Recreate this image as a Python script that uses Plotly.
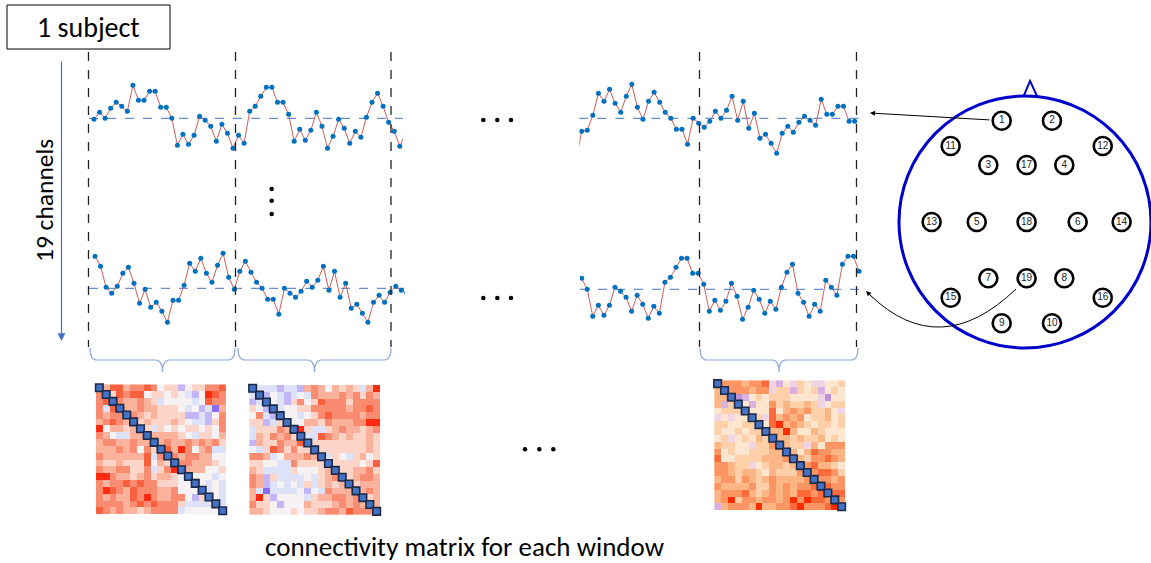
import plotly.graph_objects as go

W, H = 1151, 563

# ---------------- data ----------------
# EEG-like signal samples (amplitude in px above the dashed mean line)
top_left = [-1, 6, 0, 10, 16, 12, 7, 33, 18, 18, 27, 27, 11, 11, 0, -27, -16, -26, -17, 2,
            -2, -8, -23, -6, -15, -30, -17, -25, 7, 12, 22, 31, 31, 16, 16, 4, -23, -11, -22, -12,
            6, -8, -30, -18, -1, -10, -25, -13, -19, 1, 16, 25, 12, -4, -13, -28, -15]
bottom_left = [32, 22, 1, -5, 2, 15, 21, 5, -15, -1, -19, -14, -23, -34, -12, -12, 3, 25, 17, 30,
               15, 6, 23, 35, 11, -1, 17, 27, 16, 6, 0, -11, -11, -26, 0, -5, -9, -3, 7, 1,
               8, 22, -2, 17, -9, 5, -20, -16, -25, -34, -14, -7, -14, -4, 2, -2, -5]
top_right = [-42, -13, -12, 3, 25, 17, 29, 15, 6, 22, 34, 11, -1, 17, 26, 16, 6, 0, -11, -11,
             -26, 0, -5, -9, -3, 7, 0, 8, 22, -2, 17, -10, 5, -20, -16, -25, -35, -15, -8, -14,
             -4, 2, -2, -7, 19, 4, 4, 12, 12, -3, -3]
bottom_right = [11, 0, -27, -16, -26, -16, 2, -2, -8, -22, -6, -15, -29, -17, -24, 7, 12, 22, 31, 31,
                16, 16, 5, -22, -11, -21, -12, 6, -7, -30, -18, -1, -10, -24, -12, -20, 2, 17, 25, -4,
                -13, -27, -15, -22, 9, 2, -6, 25, 33, 33, 18]

# connectivity matrices, one digit per cell (0 = strongest negative ... 8 = strongest positive)
matrix_window_1 = [
    "8577566763441344667", "6847677344343213876", "6786556542333323766", "6278556554443231205",
    "6566865454444112136", "5676584544454322146", "8355458424343443436", "6532255855554324435",
    "5665565585655656564", "5556563648758635622", "6555555726865665533", "5445444735486655543",
    "6556644624688555334", "8865545645543833323", "6566767664443383232", "6876576665563338232",
    "6565576865566314832", "6666567676664222282", "7656554566662333338"]
matrix_window_2 = [
    "8222122156535454258", "2813212326555656465", "1283214634766646666", "4318233446666656676",
    "3621833234676666566", "4412483355465556688", "2444658842245655456", "2546564822765454454",
    "1544655784444444454", "3247646448444444454", "6652355565824324534", "4433226444484444347",
    "5422224333458445564", "6514222232456845665", "6512323242454584555", "5202222313265558565",
    "5841333324556656845", "6443133354445656585", "5543334344566576668"]
matrix_window_last = [
    "8666566721324322334", "5866656624414341343", "5580134344433332033", "5148313364544542344",
    "3444833373565644532", "2323384275656344534", "4433448378565434434", "4334344855853354333",
    "3423435485545445343", "5443324468544253666", "6343344455853576655", "7334444555685466765",
    "6654423455458675543", "6654554354446867764", "5664654565555686656", "6555564465656678766",
    "5666754565657767877", "5684665665686877686", "1566658556678666788"]

# 10-20 electrode layout (head-radius units)
electrode_labels = ["1", "2", "11", "12", "3", "17", "4", "13", "5", "18", "6", "14",
                    "7", "19", "8", "15", "16", "9", "10"]
electrode_x = [-0.185, 0.214, -0.590, 0.617, -0.291, 0.013, 0.312, -0.741, -0.383, 0.013, 0.418, 0.767,
               -0.291, 0.013, 0.312, -0.590, 0.617, -0.185, 0.214]
electrode_y = [0.804, 0.804, 0.603, 0.603, 0.452, 0.452, 0.452, 0.0, 0.0, 0.0, 0.0, 0.0,
               -0.447, -0.447, -0.447, -0.601, -0.601, -0.804, -0.804]

FONT = "Carlito, Lato, sans-serif"

fig = go.Figure()


def dx(a, b):
    return [a / W, b / W]


def dy(top, bottom):
    return [1 - bottom / H, 1 - top / H]


layout_axes = {}
# overlay canvas (pixel space)
layout_axes["xaxis"] = dict(domain=[0, 1], range=[0, W], visible=False, fixedrange=True)
layout_axes["yaxis"] = dict(domain=[0, 1], range=[H, 0], visible=False, fixedrange=True)
fig.add_trace(go.Scatter(x=[0, W], y=[0, H], mode="markers", marker=dict(opacity=0),
                         hoverinfo="skip", showlegend=False))

# ---------------- signal strips ----------------
strips = [
    # values, px left, px right, baseline px, index of first visible sample, px of that sample, spacing
    (top_left, 89, 403, 118.3, 0, 94.0, 5.56),
    (bottom_left, 89, 405, 288.3, 0, 95.0, 5.57),
    (top_right, 579.3, 860, 118.3, 1, 581.7, 5.57),
    (bottom_right, 580, 866.7, 289.3, 0, 581.7, 5.547),
]
shapes = []
ax_i = 2
for vals, pl, pr, base, i0, p0, sp in strips:
    xa, ya = f"x{ax_i}", f"y{ax_i}"
    half = 50
    layout_axes[f"xaxis{ax_i}"] = dict(domain=dx(pl, pr), range=[i0 + (pl - p0) / sp, i0 + (pr - p0) / sp],
                                       visible=False, anchor=ya, fixedrange=True)
    layout_axes[f"yaxis{ax_i}"] = dict(domain=dy(base - half, base + half), range=[-half, half],
                                       visible=False, anchor=xa, fixedrange=True)
    shapes.append(dict(type="line", xref=f"{xa} domain", x0=0, x1=1, yref=ya, y0=0, y1=0,
                       line=dict(color="#4472C4", width=1, dash="dash"), layer="below"))
    fig.add_trace(go.Scatter(x=list(range(len(vals))), y=vals, mode="lines+markers", xaxis=xa, yaxis=ya,
                             line=dict(color="#C85F5B", width=1),
                             marker=dict(color="#0070C0", size=5),
                             hoverinfo="skip", showlegend=False))
    ax_i += 1

# ---------------- connectivity matrices ----------------
cs_main = [[0.0, "#8a6cf0"], [0.125, "#c2b6f6"], [0.25, "#dde2f8"], [0.375, "#f6f1f2"],
           [0.5, "#fcd4c8"], [0.625, "#fbb29c"], [0.75, "#f98c70"], [0.875, "#f8603e"], [1.0, "#ff2a10"]]
cs_last = [[0.0, "#c090d8"], [0.125, "#dab0e0"], [0.25, "#f0d4e4"], [0.375, "#fde6d0"],
           [0.5, "#fdd0aa"], [0.625, "#fcb686"], [0.75, "#fb9664"], [0.875, "#fa6a3a"], [1.0, "#ff2c00"]]
mats = [
    (matrix_window_1, 95.9, 226.1, 384.3, 514.1, cs_main),
    (matrix_window_2, 249.2, 380.1, 384.9, 514.8, cs_main),
    (matrix_window_last, 714.2, 845.1, 380.2, 510.1, cs_last),
]
for rows, l, r, t, b, cs in mats:
    xa, ya = f"x{ax_i}", f"y{ax_i}"
    z = [[int(c) for c in row] for row in rows]
    n = len(z)
    layout_axes[f"xaxis{ax_i}"] = dict(domain=dx(l, r), range=[-0.5, n - 0.5], visible=False,
                                       anchor=ya, fixedrange=True)
    layout_axes[f"yaxis{ax_i}"] = dict(domain=dy(t, b), range=[n - 0.5, -0.5], visible=False,
                                       anchor=xa, fixedrange=True)
    fig.add_trace(go.Heatmap(z=z, xaxis=xa, yaxis=ya, colorscale=cs, zmin=0, zmax=8,
                             showscale=False, hoverinfo="skip"))
    fig.add_trace(go.Scatter(x=list(range(n)), y=list(range(n)), mode="markers", xaxis=xa, yaxis=ya,
                             cliponaxis=False,
                             marker=dict(symbol="square", size=7.5, color="#4472C4",
                                         line=dict(color="#1c2a48", width=1.6)),
                             hoverinfo="skip", showlegend=False))
    ax_i += 1

# ---------------- head map ----------------
hx, hy = f"x{ax_i}", f"y{ax_i}"
cx, cy, R = 1025, 222, 126
hl, hr, ht, hb = 880, 1151, 70, 360
layout_axes[f"xaxis{ax_i}"] = dict(domain=dx(hl, hr), range=[(hl - cx) / R, (hr - cx) / R], visible=False,
                                   anchor=hy, fixedrange=True)
layout_axes[f"yaxis{ax_i}"] = dict(domain=dy(ht, hb), range=[(cy - hb) / R, (cy - ht) / R], visible=False,
                                   anchor=hx, fixedrange=True)
shapes.append(dict(type="circle", xref=hx, yref=hy, x0=-1, x1=1, y0=-1, y1=1,
                   line=dict(color="#0000CC", width=3)))
shapes.append(dict(type="path", xref=hx, yref=hy, path="M -0.01,1.0 L 0.04,1.12 L 0.095,1.0",
                   line=dict(color="#0000CC", width=2)))
fig.add_trace(go.Scatter(x=electrode_x, y=electrode_y, mode="markers+text", xaxis=hx, yaxis=hy,
                         text=electrode_labels, textposition="middle center",
                         textfont=dict(family="Liberation Sans, Arial, sans-serif", size=10, color="#222222"),
                         marker=dict(symbol="circle", size=18, color="white",
                                     line=dict(color="black", width=2.6)),
                         hoverinfo="skip", showlegend=False))

# ---------------- diagram furniture (pixel canvas) ----------------
# window separators
for xv in [88.5, 235.5, 391, 699.5, 856.5]:
    shapes.append(dict(type="line", xref="x", yref="y", x0=xv, x1=xv, y0=52, y1=347,
                       line=dict(color="#222222", width=1.3, dash="dash")))
# "1 subject" box
shapes.append(dict(type="rect", xref="x", yref="y", x0=7, x1=170, y0=5, y1=49,
                   line=dict(color="black", width=1), fillcolor="white"))


def brace(x0, x1, top=348, mid=360, tip=372, r=7):
    c = (x0 + x1) / 2
    return (f"M {x0},{top} Q {x0},{mid} {x0 + r},{mid} L {c - r},{mid} Q {c},{mid} {c},{tip} "
            f"Q {c},{mid} {c + r},{mid} L {x1 - r},{mid} Q {x1},{mid} {x1},{top}")


for a, b in [(90, 235), (238, 391), (700, 858)]:
    shapes.append(dict(type="path", xref="x", yref="y", path=brace(a, b),
                       line=dict(color="#8FAADC", width=1.2)))
# curved connector from electrode 19
shapes.append(dict(type="path", xref="x", yref="y", path="M 1016,289 Q 940,362 870,295",
                   line=dict(color="black", width=1)))

# ellipsis dots
dots_x = [483.3, 497.3, 511, 483.3, 497.3, 511, 525, 539.3, 553.3, 271.7, 271.7, 271.7]
dots_y = [120, 120, 120, 298, 298, 298, 449.3, 449.3, 449.3, 189, 200.7, 214]
fig.add_trace(go.Scatter(x=dots_x, y=dots_y, mode="markers", marker=dict(color="black", size=4.5),
                         hoverinfo="skip", showlegend=False))

annotations = [
    dict(x=88.5, y=27, xref="x", yref="y", text="1 subject", showarrow=False,
         font=dict(family=FONT, size=28, color="black")),
    dict(x=44, y=201, xref="x", yref="y", text="19 channels", showarrow=False, textangle=-90,
         font=dict(family=FONT, size=25.5, color="black")),
    dict(x=465, y=546, xref="x", yref="y", text="connectivity matrix for each window", showarrow=False,
         font=dict(family=FONT, size=27, color="black")),
    # 19-channel arrow
    dict(x=61.5, y=341, ax=61.5, ay=60, xref="x", yref="y", axref="x", ayref="y", text="",
         showarrow=True, arrowhead=2, arrowsize=1.3, arrowwidth=1.2, arrowcolor="#4472C4"),
    # electrode 1 arrow
    dict(x=870, y=113, ax=991, ay=120, xref="x", yref="y", axref="x", ayref="y", text="",
         showarrow=True, arrowhead=2, arrowsize=1, arrowwidth=1, arrowcolor="black"),
    # electrode 19 arrow head
    dict(x=866, y=291, ax=874, ay=299, xref="x", yref="y", axref="x", ayref="y", text="",
         showarrow=True, arrowhead=2, arrowsize=1, arrowwidth=1, arrowcolor="black"),
]

fig.update_layout(
    width=W, height=H, margin=dict(l=0, r=0, t=0, b=0),
    paper_bgcolor="white", plot_bgcolor="rgba(0,0,0,0)",
    shapes=shapes, annotations=annotations, showlegend=False,
    **layout_axes,
)
fig.write_html("out.html", config={"displayModeBar": False},
               post_script="document.body.style.margin='0';document.body.style.overflow='hidden';")
